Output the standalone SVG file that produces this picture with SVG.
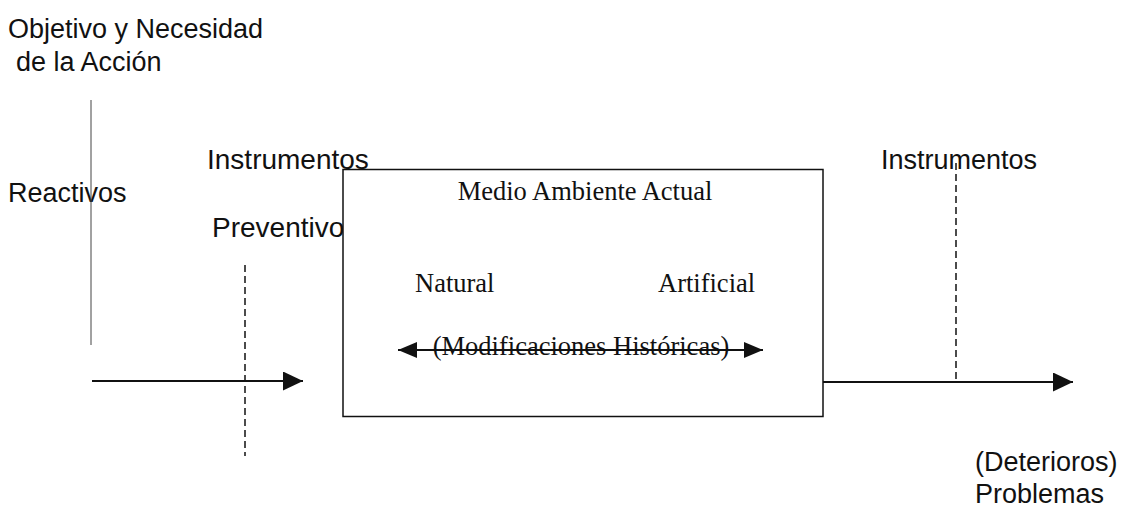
<svg xmlns="http://www.w3.org/2000/svg" width="1133" height="508" viewBox="0 0 1133 508">
<style>
.s{font-family:"Liberation Sans",Arial,sans-serif;font-size:27px;fill:#111}
.w{font-size:28px}
.t{font-family:"Liberation Serif","Times New Roman",serif;font-size:26.5px;fill:#111}
.ln{stroke:#111;stroke-width:2;fill:none}
.dash{stroke:#111;stroke-width:1.5;stroke-dasharray:7 4;fill:none}
</style>
<defs>
<marker id="big" viewBox="0 0 20 19" refX="20" refY="9.5" markerWidth="20" markerHeight="19" orient="auto-start-reverse" markerUnits="userSpaceOnUse">
<path d="M0,0 L20,9.5 L0,19 z" fill="#111"/>
</marker>
<marker id="mid" viewBox="0 0 19 16" refX="19" refY="8" markerWidth="19" markerHeight="16" orient="auto-start-reverse" markerUnits="userSpaceOnUse">
<path d="M0,0 L19,8 L0,16 z" fill="#111"/>
</marker>
</defs>
<g id="labels">
<text class="s" x="8" y="38">Objetivo y Necesidad</text>
<text class="s" x="16" y="71">de la Acción</text>
<text class="s w" x="207" y="169">Instrumentos</text>
<text class="s" x="8" y="202">Reactivos</text>
<text class="s w" x="212" y="237">Preventivo</text>
<text class="s" x="881" y="169">Instrumentos</text>
<text class="s" x="975" y="471">(Deterioros)</text>
<text class="s" x="975" y="503">Problemas</text>
</g>
<g id="connectors">
<line x1="91" y1="100" x2="91" y2="345" stroke="#444" stroke-width="1"/>
<line class="dash" x1="245" y1="265" x2="245" y2="456"/>
<line class="ln" x1="92" y1="381" x2="303" y2="381" marker-end="url(#big)"/>
<line class="ln" x1="823" y1="382" x2="1073" y2="382" marker-end="url(#big)"/>
<line class="dash" x1="956" y1="163" x2="956" y2="382"/>
</g>
<g id="box">
<rect x="343" y="169.5" width="480" height="247" fill="#fff" stroke="#111" stroke-width="1.5"/>
<text class="t" x="585" y="200" text-anchor="middle">Medio Ambiente Actual</text>
<text class="t" x="415" y="292">Natural</text>
<text class="t" x="658" y="292">Artificial</text>
<text class="t" x="581" y="355" text-anchor="middle">(Modificaciones Históricas)</text>
<line class="ln" x1="398" y1="350" x2="763" y2="350" marker-start="url(#mid)" marker-end="url(#mid)"/>
</g>
</svg>
